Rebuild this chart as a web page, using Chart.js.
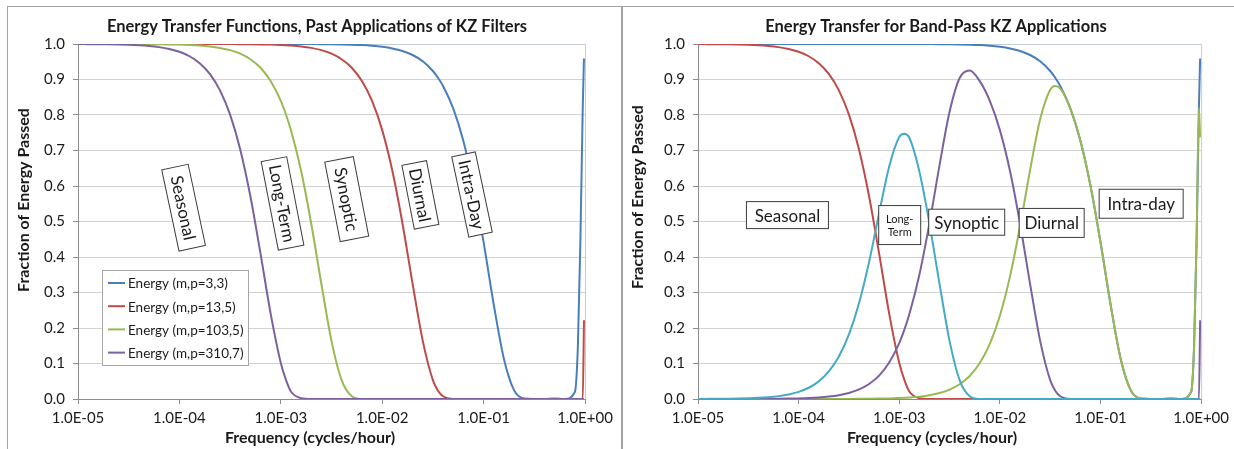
<!DOCTYPE html>
<html>
<head>
<meta charset="utf-8">
<script src="https://cdn.jsdelivr.net/npm/chart.js@4.4.1/dist/chart.umd.min.js"></script>
<style>
  html, body { margin: 0; padding: 0; background: #fff; }
  body { width: 1234px; height: 449px; position: relative; overflow: hidden; }
  .rule { position: absolute; background: #a3a3a3; }
  .panel { position: absolute; top: 7px; height: 442px; }
  #panelL { left: 8px; width: 614px; }
  #panelR { left: 624px; width: 610px; }
</style>
</head>
<body>
<div class="rule" style="left:7px;top:6px;width:1227px;height:1px;"></div>
<div class="rule" style="left:7px;top:6px;width:1px;height:443px;"></div>
<div class="rule" style="left:621px;top:6px;width:2px;height:443px;"></div>
<div class="panel" id="panelL"><canvas id="chartL"></canvas></div>
<div class="panel" id="panelR"><canvas id="chartR"></canvas></div>
<script>
// Frequency grid (cycles/hour), shared by every curve
const freq = [
  1.000e-5, 1.259e-5, 1.585e-5, 1.995e-5, 2.512e-5, 3.162e-5, 3.981e-5, 5.012e-5, 6.310e-5, 7.943e-5,
  1.000e-4, 1.259e-4, 1.585e-4, 1.995e-4, 2.512e-4, 3.162e-4, 3.981e-4, 5.012e-4, 6.310e-4, 7.943e-4,
  1.000e-3, 1.122e-3, 1.259e-3, 1.585e-3, 1.995e-3, 2.512e-3, 3.162e-3, 3.981e-3, 5.012e-3, 6.310e-3, 7.943e-3,
  1.000e-2, 1.259e-2, 1.585e-2, 1.995e-2, 2.512e-2, 3.162e-2, 3.548e-2, 3.981e-2, 5.012e-2, 6.310e-2, 7.943e-2,
  0.1000, 0.1259, 0.1585, 0.1995, 0.2512, 0.3162, 0.3981, 0.5012, 0.6310, 0.7943,
  0.851, 0.900, 0.950, 0.977
];

// KZ low-pass energy transfer, one array per (m,p)
const energyM3P3 = [
  1, 1, 1, 1, 1, 1, 1, 1, 1, 1,
  1, 1, 1, 1, 1, 1, 1, 1, 1, 1,
  1.0, 1.0, 0.9999, 0.9998, 0.9997, 0.9995, 0.9992, 0.9987, 0.9980, 0.9969, 0.9950,
  0.9921, 0.9876, 0.9804, 0.9690, 0.9514, 0.9240, 0.9050, 0.8818, 0.8187, 0.7272, 0.6012,
  0.4417, 0.2663, 0.1136, 0.0251, 0.0013, 0.0, 0.0001, 0.0014, 0.0, 0.0196,
  0.1496, 0.4417, 0.8195, 0.9590
];
const energyM13P5 = [
  1, 1, 1, 1, 1, 1, 1, 1, 1, 1,
  1.0, 1.0, 1.0, 1.0, 0.9998, 0.9997, 0.9996, 0.9993, 0.9989, 0.9983,
  0.9972, 0.9965, 0.9956, 0.9931, 0.9891, 0.9827, 0.9727, 0.9571, 0.9331, 0.8956, 0.8397,
  0.7574, 0.6428, 0.4945, 0.3244, 0.1637, 0.0530, 0.0232, 0.0078, 0.0003, 0, 0,
  0, 0, 0, 0, 0, 0, 0, 0, 0, 0,
  0, 0, 0, 0.2218
];
const energyM103P5 = [
  1.0, 1.0, 1.0, 1.0, 0.9999, 0.9998, 0.9997, 0.9996, 0.9993, 0.9989,
  0.9983, 0.9972, 0.9956, 0.9931, 0.9890, 0.9827, 0.9727, 0.9571, 0.9331, 0.8956,
  0.8397, 0.8020, 0.7570, 0.6430, 0.4945, 0.3244, 0.1637, 0.0530, 0.0078, 0.0003, 0,
  0, 0, 0, 0, 0, 0, 0, 0, 0, 0, 0,
  0, 0, 0, 0, 0, 0, 0, 0, 0, 0,
  0, 0, 0, 0
];
const energyM310P7 = [
  0.9998, 0.9996, 0.9994, 0.9991, 0.9986, 0.9978, 0.9965, 0.9945, 0.9912, 0.9861,
  0.9781, 0.9655, 0.9459, 0.9156, 0.8694, 0.8009, 0.7029, 0.5710, 0.4095, 0.2404,
  0.1015, 0.0547, 0.0212, 0.0023, 0, 0, 0, 0, 0, 0, 0,
  0, 0, 0, 0, 0, 0, 0, 0, 0, 0, 0,
  0, 0, 0, 0, 0, 0, 0, 0, 0, 0,
  0, 0, 0, 0
];

// Band-pass energy transfer
const bandIntraDay = [
  1, 1, 1, 1, 1, 1, 1, 1, 1, 1,
  1, 1, 1, 1, 1, 1, 1, 1, 1, 1,
  1.0, 1.0, 0.9999, 0.9998, 0.9997, 0.9995, 0.9992, 0.9987, 0.9980, 0.9969, 0.9950,
  0.9921, 0.9876, 0.9804, 0.9690, 0.9514, 0.9240, 0.9050, 0.8818, 0.8187, 0.7272, 0.6012,
  0.4417, 0.2663, 0.1136, 0.0251, 0.0013, 0.0, 0.0001, 0.0014, 0.0, 0.0196,
  0.1496, 0.4417, 0.8195, 0.9590
];
const bandSeasonal = [
  0.9998, 0.9996, 0.9994, 0.9991, 0.9986, 0.9978, 0.9965, 0.9945, 0.9912, 0.9861,
  0.9781, 0.9655, 0.9459, 0.9156, 0.8694, 0.8009, 0.7029, 0.5710, 0.4095, 0.2404,
  0.1015, 0.0547, 0.0212, 0.0023, 0, 0, 0, 0, 0, 0, 0,
  0, 0, 0, 0, 0, 0, 0, 0, 0, 0, 0,
  0, 0, 0, 0, 0, 0, 0, 0, 0, 0,
  0, 0, 0, 0
];
const bandDiurnal = [
  0, 0, 0, 0, 0, 0, 0, 0, 0, 0,
  0, 0, 0, 0, 0.0002, 0.0003, 0.0004, 0.0007, 0.0011, 0.0017,
  0.0028, 0.0034, 0.0043, 0.0067, 0.0106, 0.0168, 0.0265, 0.0416, 0.0649, 0.1013, 0.1553,
  0.2347, 0.3448, 0.4859, 0.6446, 0.7877, 0.8710, 0.8818, 0.8740, 0.8184, 0.7272, 0.6012,
  0.4417, 0.2663, 0.1136, 0.0251, 0.0013, 0, 0.0001, 0.0014, 0, 0.0196,
  0.1496, 0.4417, 0.8195, 0.7372
];
const bandSynoptic = [
  0, 0, 0, 0, 0.0001, 0.0002, 0.0003, 0.0004, 0.0007, 0.0011,
  0.0017, 0.0028, 0.0044, 0.0069, 0.0108, 0.0170, 0.0269, 0.0422, 0.0658, 0.1027,
  0.1575, 0.1945, 0.2386, 0.3501, 0.4946, 0.6583, 0.8090, 0.9041, 0.9253, 0.8953, 0.8397,
  0.7574, 0.6428, 0.4945, 0.3244, 0.1637, 0.0530, 0.0232, 0.0078, 0.0003, 0, 0,
  0, 0, 0, 0, 0, 0, 0, 0, 0, 0,
  0, 0, 0, 0.2218
];
const bandLongTerm = [
  0.0002, 0.0004, 0.0006, 0.0009, 0.0013, 0.0020, 0.0032, 0.0051, 0.0081, 0.0128,
  0.0202, 0.0317, 0.0497, 0.0775, 0.1196, 0.1818, 0.2698, 0.3861, 0.5236, 0.6552,
  0.7382, 0.7473, 0.7358, 0.6407, 0.4945, 0.3244, 0.1637, 0.0530, 0.0078, 0.0003, 0,
  0, 0, 0, 0, 0, 0, 0, 0, 0, 0, 0,
  0, 0, 0, 0, 0, 0, 0, 0, 0, 0,
  0, 0, 0, 0
];

// Axis ticks
const xTickValues = [1e-5, 1e-4, 1e-3, 1e-2, 1e-1, 1];
const xTickLabels = ['1.0E-05', '1.0E-04', '1.0E-03', '1.0E-02', '1.0E-01', '1.0E+00'];
const yTickLabels = ['0.0', '0.1', '0.2', '0.3', '0.4', '0.5', '0.6', '0.7', '0.8', '0.9', '1.0'];

// Series names
const lowPassNames = ['Energy (m,p=3,3)', 'Energy (m,p=13,5)', 'Energy (m,p=103,5)', 'Energy (m,p=310,7)'];
const bandNames = ['Intra-day', 'Seasonal', 'Diurnal', 'Synoptic', 'Long-Term'];

const COLORS = { blue: '#4a7ebb', red: '#be4b48', green: '#98b954', purple: '#7d60a0', cyan: '#46aac5' };
const FONT = 'Lato, "Open Sans", sans-serif';
const TEXT = '#1a1a1a';

Chart.defaults.font.family = FONT;
Chart.defaults.color = TEXT;

function points(values) {
  return freq.map((f, i) => ({ x: f, y: values[i] }));
}

function lineSet(label, values, color, order) {
  return {
    label, data: points(values), borderColor: color, backgroundColor: color,
    borderWidth: 2, pointRadius: 0, pointHoverRadius: 0, fill: false,
    cubicInterpolationMode: 'monotone', order
  };
}

// Titles, boxed labels, legend and plot frame
function makeDecor(cfg) {
  return {
    id: 'decor',
    beforeDatasetsDraw(chart) {
      const { ctx, chartArea: a } = chart;
      ctx.save();
      ctx.strokeStyle = '#c3ccd8';
      ctx.lineWidth = 1;
      ctx.beginPath();
      ctx.moveTo(a.left, a.top + 0.5);
      ctx.lineTo(a.right + 0.5, a.top + 0.5);
      ctx.lineTo(a.right + 0.5, a.bottom);
      ctx.stroke();
      ctx.restore();
    },
    afterDatasetsDraw(chart) {
      const { ctx, scales: { x, y } } = chart;
      cfg.boxes.forEach(b => {
        const px = x.getPixelForValue(b.f);
        const py = y.getPixelForValue(b.v);
        const size = b.size || 17;
        ctx.save();
        ctx.translate(px, py);
        ctx.rotate((b.angle || 0) * Math.PI / 180);
        ctx.fillStyle = '#fff';
        ctx.fillRect(-b.w / 2, -b.h / 2, b.w, b.h);
        ctx.strokeStyle = '#3c3c3c';
        ctx.lineWidth = 1;
        ctx.strokeRect(-b.w / 2, -b.h / 2, b.w, b.h);
        ctx.fillStyle = TEXT;
        ctx.font = size + 'px ' + FONT;
        ctx.textAlign = 'center';
        ctx.textBaseline = 'middle';
        const lines = b.text.split('\n');
        const lh = size * 1.25;
        lines.forEach((t, i) => ctx.fillText(t, 0, (i - (lines.length - 1) / 2) * lh + 1));
        ctx.restore();
      });
      if (cfg.legend) {
        const L = cfg.legend;
        ctx.save();
        ctx.fillStyle = '#fff';
        ctx.fillRect(L.x, L.y, L.w, L.h);
        ctx.strokeStyle = '#a6a6a6';
        ctx.lineWidth = 1;
        ctx.strokeRect(L.x + 0.5, L.y + 0.5, L.w, L.h);
        ctx.font = '13.5px ' + FONT;
        ctx.textBaseline = 'middle';
        ctx.textAlign = 'left';
        chart.data.datasets.forEach((ds, i) => {
          const cy = L.y + L.first + i * L.row;
          ctx.strokeStyle = ds.borderColor;
          ctx.lineWidth = 2;
          ctx.beginPath();
          ctx.moveTo(L.x + 6, cy);
          ctx.lineTo(L.x + 23, cy);
          ctx.stroke();
          ctx.fillStyle = TEXT;
          ctx.fillText(ds.label, L.x + 26, cy + 1);
        });
        ctx.restore();
      }
    },
    afterDraw(chart) {
      const { ctx } = chart;
      ctx.save();
      ctx.fillStyle = TEXT;
      ctx.textAlign = 'center';
      ctx.textBaseline = 'middle';
      ctx.font = 'bold 16.5px ' + FONT;
      ctx.fillText(cfg.title.text, cfg.title.x, cfg.title.y);
      ctx.font = 'bold 16px ' + FONT;
      ctx.fillText(cfg.xTitle.text, cfg.xTitle.x, cfg.xTitle.y);
      ctx.translate(cfg.yTitle.x, cfg.yTitle.y);
      ctx.rotate(-Math.PI / 2);
      ctx.fillText(cfg.yTitle.text, 0, 0);
      ctx.restore();
    }
  };
}

function chartOptions(padRight, yWidth) {
  return {
    responsive: true,
    maintainAspectRatio: false,
    devicePixelRatio: 1,
    animation: false,
    events: [],
    layout: { padding: { top: 37, right: padRight, left: 0, bottom: 0 } },
    plugins: { legend: { display: false }, title: { display: false }, tooltip: { enabled: false } },
    scales: {
      x: {
        type: 'logarithmic', min: 1e-5, max: 1,
        afterBuildTicks: s => { s.ticks = xTickValues.map(v => ({ value: v })); },
        afterFit: s => { s.height = 50; },
        ticks: {
          callback: (v, i) => xTickLabels[i], autoSkip: false, maxRotation: 0,
          font: { size: 15 }, color: TEXT, padding: 5
        },
        grid: { drawOnChartArea: false, drawTicks: true, tickLength: 5, color: '#8c8c8c' },
        border: { color: '#8c8c8c' }
      },
      y: {
        min: 0, max: 1,
        afterFit: s => { s.width = yWidth; },
        ticks: {
          stepSize: 0.1, callback: (v, i) => yTickLabels[i],
          font: { size: 15 }, color: TEXT, padding: 8
        },
        grid: { color: '#d2d2d2', tickColor: '#8c8c8c', tickLength: 5 },
        border: { color: '#8c8c8c' }
      }
    }
  };
}

new Chart(document.getElementById('chartL'), {
  type: 'line',
  data: {
    datasets: [
      lineSet(lowPassNames[0], energyM3P3, COLORS.blue, 3),
      lineSet(lowPassNames[1], energyM13P5, COLORS.red, 2),
      lineSet(lowPassNames[2], energyM103P5, COLORS.green, 1),
      lineSet(lowPassNames[3], energyM310P7, COLORS.purple, 0)
    ]
  },
  options: chartOptions(37, 70),
  plugins: [makeDecor({
    title: { text: 'Energy Transfer Functions, Past Applications of KZ Filters', x: 309, y: 20 },
    xTitle: { text: 'Frequency (cycles/hour)', x: 302, y: 431 },
    yTitle: { text: 'Fraction of Energy Passed', x: 16, y: 193 },
    legend: { x: 94, y: 263, w: 146, h: 95, first: 13, row: 23.2 },
    boxes: [
      { text: 'Seasonal', f: 1.10e-4, v: 0.539, w: 83, h: 27, angle: 78 },
      { text: 'Long-Term', f: 1.04e-3, v: 0.551, w: 90, h: 26, angle: 79 },
      { text: 'Synoptic', f: 4.47e-3, v: 0.563, w: 81, h: 29, angle: 79 },
      { text: 'Diurnal', f: 2.38e-2, v: 0.575, w: 65, h: 25, angle: 79 },
      { text: 'Intra-Day', f: 7.69e-2, v: 0.576, w: 82, h: 24, angle: 78 }
    ]
  })]
});

new Chart(document.getElementById('chartR'), {
  type: 'line',
  data: {
    datasets: [
      lineSet(bandNames[0], bandIntraDay, COLORS.blue, 4),
      lineSet(bandNames[1], bandSeasonal, COLORS.red, 3),
      lineSet(bandNames[2], bandDiurnal, COLORS.green, 2),
      lineSet(bandNames[3], bandSynoptic, COLORS.purple, 1),
      lineSet(bandNames[4], bandLongTerm, COLORS.cyan, 0)
    ]
  },
  options: chartOptions(28, 74),
  plugins: [makeDecor({
    title: { text: 'Energy Transfer for Band-Pass KZ Applications', x: 312, y: 20 },
    xTitle: { text: 'Frequency (cycles/hour)', x: 308, y: 431 },
    yTitle: { text: 'Fraction of Energy Passed', x: 14, y: 190 },
    legend: null,
    boxes: [
      { text: 'Seasonal', f: 7.74e-5, v: 0.518, w: 82, h: 27 },
      { text: 'Long-\nTerm', f: 1.01e-3, v: 0.490, w: 42, h: 39, size: 11 },
      { text: 'Synoptic', f: 4.68e-3, v: 0.498, w: 76, h: 26 },
      { text: 'Diurnal', f: 3.27e-2, v: 0.496, w: 65, h: 29 },
      { text: 'Intra-day', f: 0.2535, v: 0.550, w: 84, h: 29 }
    ]
  })]
});
</script>
</body>
</html>
